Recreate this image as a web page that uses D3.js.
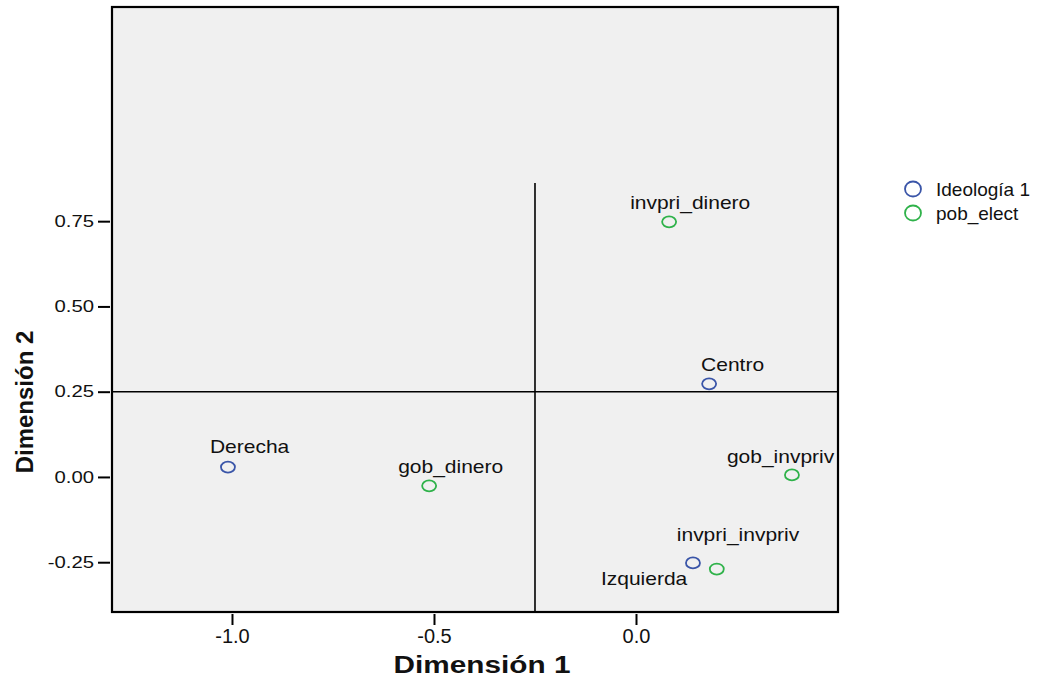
<!DOCTYPE html>
<html>
<head>
<meta charset="utf-8">
<script src="https://cdn.jsdelivr.net/npm/d3@7"></script>
<style>
  body { margin: 0; background: #fff; }
  text { font-family: "Liberation Sans", Arial, sans-serif; fill: #111; }
</style>
</head>
<body>
<div id="chart-container"></div>
<script>
// point labels, groups and coordinates
const pointNames = ["Derecha", "Centro", "Izquierda", "gob_dinero", "invpri_dinero", "gob_invpriv", "invpri_invpriv"];
const pointGroup = ["Ideología 1", "Ideología 1", "Ideología 1", "pob_elect", "pob_elect", "pob_elect", "pob_elect"];
const dim1 = [-1.010, 0.181, 0.141, -0.512, 0.082, 0.386, 0.200];
const dim2 = [0.029, 0.273, -0.252, -0.026, 0.748, 0.006, -0.270];

// legend
const groups = ["Ideología 1", "pob_elect"];
const groupColors = ["#3a55a8", "#2fb24a"];

// axis ticks
const xTicks = [-1.0, -0.5, 0.0];
const yTicks = [-0.25, 0.0, 0.25, 0.5, 0.75];

// reference lines
const refX = -0.25;
const refXTop = 0.862;
const refY = 0.25;

// label placement (px offsets from marker)
const labelOffsets = [[-18, -14], [-8, -13], [-92, 22], [-31, -13], [-39, -13], [-65, -12], [-40, -28]];

const W = 1043, H = 680;
const plot = { left: 112, top: 7, right: 838, bottom: 612 };

// spss style: plain hyphen for negatives
const fmt = (spec) => (d) => d3.format(spec)(d).replace("\u2212", "-");

const svg = d3.select("#chart-container")
  .append("svg")
  .attr("width", W)
  .attr("height", H);

const x = d3.scaleLinear().domain([-1.297, 0.5]).range([plot.left, plot.right]);
const y = d3.scaleLinear().domain([-0.396, 1.378]).range([plot.bottom, plot.top]);
const color = d3.scaleOrdinal().domain(groups).range(groupColors);

//plot background
svg.append("rect")
  .attr("x", plot.left)
  .attr("y", plot.top)
  .attr("width", plot.right - plot.left)
  .attr("height", plot.bottom - plot.top)
  .attr("fill", "#f0f0f0");

//reference lines
svg.append("line")
  .attr("x1", x(refX)).attr("x2", x(refX))
  .attr("y1", y(refXTop)).attr("y2", plot.bottom)
  .attr("stroke", "#000").attr("stroke-width", 1.6);
svg.append("line")
  .attr("x1", plot.left).attr("x2", plot.right)
  .attr("y1", y(refY)).attr("y2", y(refY))
  .attr("stroke", "#000").attr("stroke-width", 1.6);

//frame
svg.append("rect")
  .attr("x", plot.left)
  .attr("y", plot.top)
  .attr("width", plot.right - plot.left)
  .attr("height", plot.bottom - plot.top)
  .attr("fill", "none")
  .attr("stroke", "#000")
  .attr("stroke-width", 2.2);

//x axis
const gx = svg.append("g")
  .attr("transform", `translate(0,${plot.bottom + 2})`)
  .call(d3.axisBottom(x).tickValues(xTicks).tickFormat(fmt(".1f")).tickSize(11).tickPadding(4));
gx.select(".domain").remove();
gx.selectAll(".tick line").attr("stroke", "#000").attr("stroke-width", 2);
gx.selectAll(".tick text")
  .style("font-size", "20px")
  .style("font-family", "Liberation Sans, Arial, sans-serif")
  .attr("fill", "#111");

//y axis
const gy = svg.append("g")
  .attr("transform", `translate(${plot.left - 2},0)`)
  .call(d3.axisLeft(y).tickValues(yTicks).tickFormat(fmt(".2f")).tickSize(12).tickPadding(0));
gy.select(".domain").remove();
gy.selectAll(".tick line").attr("stroke", "#000").attr("stroke-width", 2);
gy.selectAll(".tick text")
  .style("font-size", "16px")
  .style("font-family", "Liberation Sans, Arial, sans-serif")
  .attr("fill", "#111")
  .attr("x", -16 / 1.27)
  .attr("transform", "scale(1.27,1)");

//axis titles
svg.append("text")
  .attr("transform", "translate(482,673) scale(1.24,1)")
  .attr("text-anchor", "middle")
  .style("font-size", "24px")
  .style("font-weight", "bold")
  .text("Dimensión 1");

svg.append("text")
  .attr("transform", "translate(33,402) rotate(-90)")
  .attr("text-anchor", "middle")
  .style("font-size", "24px")
  .style("font-weight", "bold")
  .text("Dimensión 2");

//markers
svg.selectAll(".pt")
  .data(pointNames)
  .join("ellipse")
  .attr("class", "pt")
  .attr("cx", (d, i) => x(dim1[i]))
  .attr("cy", (d, i) => y(dim2[i]))
  .attr("rx", 7)
  .attr("ry", 5.5)
  .attr("fill", "none")
  .attr("stroke", (d, i) => color(pointGroup[i]))
  .attr("stroke-width", 1.8);

//point labels
svg.selectAll(".pt-label")
  .data(pointNames)
  .join("text")
  .attr("class", "pt-label")
  .attr("transform", (d, i) =>
    `translate(${x(dim1[i]) + labelOffsets[i][0]},${y(dim2[i]) + labelOffsets[i][1]}) scale(1.2,1)`)
  .style("font-size", "17.5px")
  .text((d) => d);

//legend
for (let i = 0; i < groups.length; i++) {
  svg.append("ellipse")
    .attr("cx", 913)
    .attr("cy", 189 + 24 * i)
    .attr("rx", 8)
    .attr("ry", 7.5)
    .attr("fill", "none")
    .attr("stroke", color(groups[i]))
    .attr("stroke-width", 1.8);
  svg.append("text")
    .attr("x", 936)
    .attr("y", 196 + 24 * i)
    .style("font-size", "19px")
    .text(groups[i]);
}
</script>
</body>
</html>
